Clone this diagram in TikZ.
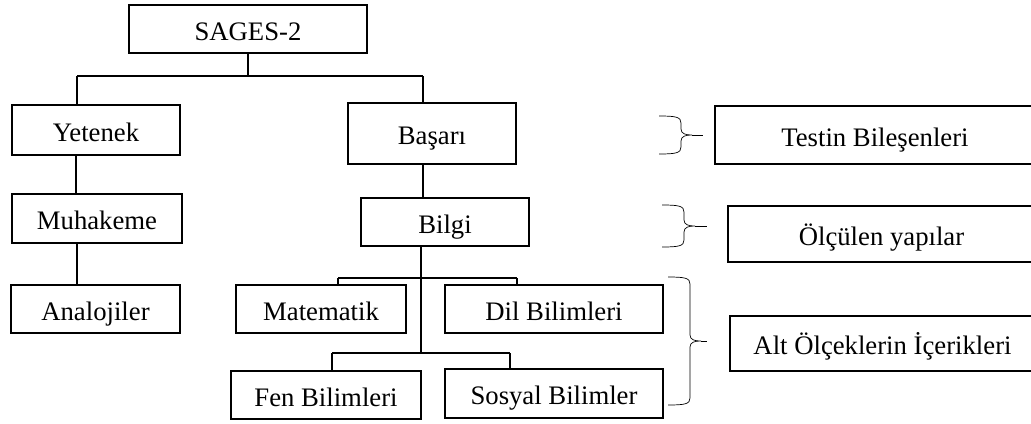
\documentclass[tikz,border=0pt]{standalone}
\usepackage{fontspec}
\setmainfont{Liberation Serif}
\usetikzlibrary{calc}

% curly brace opening to the right: x0, ytop, ybottom, xtip
\newcommand{\kume}[4]{%
  \draw [thin] (#1,#2) .. controls ({#1+17},#2) and ({#1+22},{#2+1}) .. ({#1+22},{#2+7})
     -- ({#1+22},{(#2+#3)/2-6}) .. controls ({#1+22},{(#2+#3)/2-1}) and ({#1+27},{(#2+#3)/2}) .. ({#1+33},{(#2+#3)/2})
     .. controls ({#1+27},{(#2+#3)/2}) and ({#1+22},{(#2+#3)/2+1}) .. ({#1+22},{(#2+#3)/2+6})
     -- ({#1+22},{#3-7}) .. controls ({#1+22},{#3-1}) and ({#1+17},#3) .. (#1,#3);
  \draw [thin] ({#1+33},{(#2+#3)/2}) -- (#4,{(#2+#3)/2});}

\begin{document}
\begin{tikzpicture}[x=0.02cm, y=-0.02cm,
    every node/.style={font=\fontsize{15.2}{18}\selectfont},
    box/.style={draw, line width=1pt, rectangle, inner sep=0pt,
                text height=0.44cm, text depth=0pt},
    hat/.style={line width=0.6pt}]
              \useasboundingbox (0,0) rectangle (1031,423);
              % left tree
              \node (sages) [box, minimum width=4.76cm, minimum height=0.96cm] at (248,29) {SAGES-2};
              \node (yetenek) [box, minimum width=3.36cm, minimum height=1cm] at (96,130) {Yetenek};
              \node (basari) [box, minimum width=3.36cm, minimum height=1.22cm] at (432,133.5) {Başarı};
              \node (muhakeme) [box, minimum width=3.4cm, minimum height=0.98cm] at (97,218.5) {Muhakeme};
              \node (bilgi) [box, minimum width=3.36cm, minimum height=0.96cm] at (445,222) {Bilgi};
              \node (analoji) [box, minimum width=3.38cm, minimum height=0.96cm] at (95.5,309) {Analojiler};
              \node (mat) [box, minimum width=3.4cm, minimum height=0.96cm] at (321,309) {Matematik};
              \node (dil) [box, minimum width=4.36cm, minimum height=0.96cm] at (554,309) {Dil Bilimleri};
              \node (fen) [box, minimum width=3.8cm, minimum height=0.96cm] at (326,395) {Fen Bilimleri};
              \node (sosyal) [box, minimum width=4.36cm, minimum height=0.98cm] at (554,393.5) {Sosyal Bilimler};
              % right column
              \node (testin) [box, minimum width=6.4cm, minimum height=1.16cm] at (875,135) {Testin Bileşenleri};
              \node (olculen) [box, minimum width=6.14cm, minimum height=1.12cm] at (881.5,234) {Ölçülen yapılar};
              \node (alt) [box, minimum width=6.1cm, minimum height=1.1cm] at (882.5,343.5) {Alt Ölçeklerin İçerikleri};

              % bus lines
              \coordinate (bl1) at (77,76);
              \coordinate (br1) at (423,76);
              \coordinate (bl2) at (338,278);
              \coordinate (br2) at (517,278);
              \coordinate (bl3) at (332,353);
              \coordinate (br3) at (510,353);

              \draw [hat] (sages.south) -- (sages.south |- bl1);
              \draw [hat] (bl1) -- (br1);
              \draw [hat] (bl1) -- (bl1 |- yetenek.north);
              \draw [hat] (br1) -- (br1 |- basari.north);
              \draw [hat] ([xshift=-0.4cm]yetenek.south) -- ([xshift=-0.4cm]yetenek.south |- muhakeme.north);
              \draw [hat] ([xshift=-0.4cm]muhakeme.south) -- ([xshift=-0.4cm]muhakeme.south |- analoji.north);
              \draw [hat] ([xshift=-0.18cm]basari.south) -- ([xshift=-0.18cm]basari.south |- bilgi.north);
              \draw [hat] ([xshift=-0.48cm]bilgi.south) -- ([xshift=-0.48cm]bilgi.south |- bl3);
              \draw [hat] (bl2) -- (br2);
              \draw [hat] (bl2) -- (bl2 |- mat.north);
              \draw [hat] (br2) -- (br2 |- dil.north);
              \draw [hat] (bl3) -- (br3);
              \draw [hat] (bl3) -- (bl3 |- fen.north);
              \draw [hat] (br3) -- (br3 |- sosyal.north);

              % braces
              \kume{659}{116}{154}{703}
              \kume{662}{205}{247}{707}
              \kume{668}{277}{405}{707}
\end{tikzpicture}
\end{document}
